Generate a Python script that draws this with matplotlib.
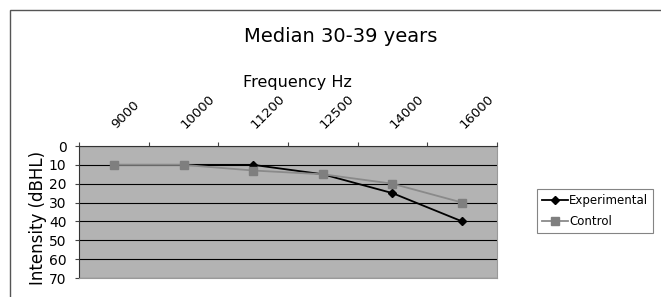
import matplotlib
matplotlib.use("Agg")
import matplotlib.pyplot as plt
from matplotlib.patches import Rectangle

categories = ["9000", "10000", "11200", "12500", "14000", "16000"]
experimental = [10, 10, 10, 15, 25, 40]
control = [10, 10, 13, 15, 20, 30]
yticks = [0, 10, 20, 30, 40, 50, 60, 70]

plt.rcParams['font.family'] = ['DejaVu Sans']
W, H = 661, 297
fig = plt.figure(figsize=(W / 100, H / 100), dpi=100)
fig.patch.set_facecolor('white')

# outer chart frame
fig.add_artist(Rectangle((10 / W, -0.05), 1.0, 1 - 10 / H + 0.05, transform=fig.transFigure,
                         fill=False, edgecolor='#555555', linewidth=1.0))

ax = fig.add_axes([79 / W, (H - 278) / H, 418 / W, 132 / H])
ax.set_facecolor('#b3b3b3')
x = list(range(len(categories)))
ax.plot(x, experimental, color='black', linewidth=1.3, marker='D', markersize=4,
        markerfacecolor='black', label='Experimental', zorder=4)
ax.plot(x, control, color='#8a8a8a', linewidth=1.3, marker='s', markersize=6,
        markerfacecolor='#7f7f7f', markeredgecolor='#7f7f7f', label='Control', zorder=5)

ax.set_xlim(-0.5, len(categories) - 0.5)
ax.set_ylim(70, 0)
ax.set_yticks(yticks)
ax.set_yticklabels([str(v) for v in yticks], fontsize=10)
ax.yaxis.grid(True, color='black', linewidth=0.8)
ax.set_axisbelow(True)

ax.xaxis.tick_top()
ax.set_xticks([i - 0.5 for i in range(len(categories) + 1)])
ax.set_xticklabels([])
ax.tick_params(axis='x', length=3, direction='out', color='#444444')
ax.tick_params(axis='y', length=3, direction='out', color='#444444', pad=6)

for i, c in enumerate(categories):
    ax.annotate(c, xy=(i, 0), xycoords='data', xytext=(3, 11), textcoords='offset points',
                rotation=45, rotation_mode='anchor', ha='left', va='bottom',
                fontsize=9.5, annotation_clip=False)

fig.text(297 / W, 1 - 82 / H, 'Frequency Hz', ha='center', va='center', fontsize=11.5)
fig.text(38 / W, 1 - 218 / H, 'Intensity (dBHL)', ha='center', va='center',
         rotation=90, fontsize=12)
fig.text(341 / W, 1 - 36 / H, 'Median 30-39 years', ha='center', va='center', fontsize=14)

for s in ['bottom', 'right']:
    ax.spines[s].set_color('#999999')
    ax.spines[s].set_linewidth(0.8)
ax.spines['top'].set_color('#333333')
ax.spines['left'].set_color('#333333')

leg = fig.legend(loc='upper left', bbox_to_anchor=(537 / W, 1 - 189 / H),
                 fontsize=8.5, frameon=True, fancybox=False, edgecolor='#666666',
                 handlelength=2.2, handletextpad=0.1, borderpad=0.4, labelspacing=0.7,
                 borderaxespad=0)
leg.get_frame().set_linewidth(0.8)

fig.savefig('out.png', dpi=100)
